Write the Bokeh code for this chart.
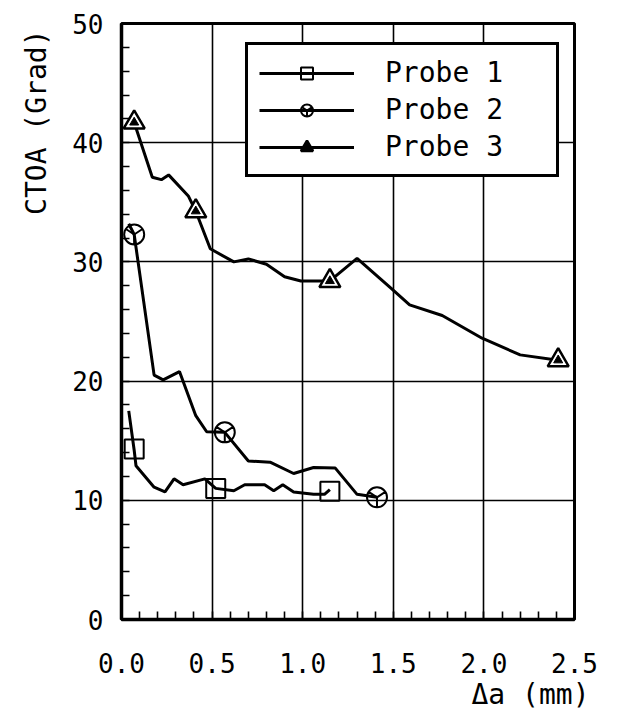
from bokeh.plotting import figure
from bokeh.models import Range1d, SingleIntervalTicker, Legend, LegendItem, Title, NumeralTickFormatter
from bokeh.embed import file_html
from bokeh.resources import INLINE

# ---- data ----
p1_x = [0.04, 0.07, 0.08, 0.18, 0.24, 0.29, 0.34, 0.46, 0.52, 0.62, 0.68, 0.79, 0.84, 0.89, 0.95, 1.06, 1.12, 1.15]
p1_y = [17.5, 14.2, 12.9, 11.1, 10.7, 11.8, 11.3, 11.8, 11.0, 10.8, 11.3, 11.3, 10.8, 11.3, 10.7, 10.5, 10.5, 10.9]
p1_mx = [0.07, 0.52, 1.15]
p1_my = [14.3, 11.0, 10.75]

p2_x = [0.04, 0.07, 0.18, 0.23, 0.32, 0.41, 0.47, 0.57, 0.70, 0.82, 0.95, 1.06, 1.18, 1.30, 1.41]
p2_y = [33.2, 32.3, 20.5, 20.1, 20.8, 17.1, 15.75, 15.7, 13.3, 13.2, 12.25, 12.75, 12.7, 10.5, 10.25]
p2_mx = [0.07, 0.57, 1.41]
p2_my = [32.3, 15.7, 10.25]

p3_x = [0.06, 0.07, 0.17, 0.22, 0.26, 0.37, 0.41, 0.49, 0.62, 0.70, 0.80, 0.90, 0.99, 1.15, 1.30, 1.49, 1.59, 1.77, 1.99, 2.20, 2.41]
p3_y = [42.2, 41.7, 37.1, 36.9, 37.3, 35.5, 34.25, 31.1, 30.0, 30.25, 29.8, 28.75, 28.4, 28.4, 30.3, 27.75, 26.4, 25.5, 23.6, 22.2, 21.75]
p3_mx = [0.07, 0.41, 1.15, 2.41]
p3_my = [41.7, 34.25, 28.4, 21.75]

series_names = ["Probe 1", "Probe 2", "Probe 3"]
x_label = "\u0394a (mm)"
y_label = "CTOA (Grad)"

FONT = "DejaVu Sans Mono"

p = figure(width=625, height=710, output_backend="svg", toolbar_location=None,
           x_range=Range1d(0, 2.5), y_range=Range1d(0, 50),
           min_border_left=120, min_border_top=23, min_border_right=51, min_border_bottom=87)
p.background_fill_color = "white"
p.border_fill_color = "white"
p.outline_line_color = "black"
p.outline_line_width = 3
p.outline_line_alpha = 1

p.xaxis.ticker = SingleIntervalTicker(interval=0.5, num_minor_ticks=5)
p.yaxis.ticker = SingleIntervalTicker(interval=10, num_minor_ticks=5)
p.xaxis.formatter = NumeralTickFormatter(format="0.0")
p.xgrid.ticker = p.xaxis.ticker
p.ygrid.ticker = p.yaxis.ticker
for g in (p.xgrid, p.ygrid):
    g.grid_line_color = "black"
    g.grid_line_width = 1.6
    g.grid_line_alpha = 1

for ax in (p.xaxis, p.yaxis):
    ax.axis_line_color = "black"
    ax.axis_line_width = 3.5
    ax.major_tick_in = 0
    ax.major_tick_out = 0
    ax.minor_tick_in = 8
    ax.minor_tick_out = 0
    ax.minor_tick_line_color = "black"
    ax.minor_tick_line_width = 1.6
    ax.major_label_text_font = FONT
    ax.major_label_text_font_size = "26px"
    ax.major_label_text_color = "black"
p.xaxis.major_label_standoff = 33
p.yaxis.major_label_standoff = 18

lw = 3
l1 = p.line(p1_x, p1_y, line_color="black", line_width=lw)
m1 = p.scatter(p1_mx, p1_my, marker="square", size=19, fill_alpha=0, line_color="black", line_width=2)
l2 = p.line(p2_x, p2_y, line_color="black", line_width=lw)
m2 = p.scatter(p2_mx, p2_my, marker="circle_y", size=20, fill_alpha=0, line_color="black", line_width=2)
l3 = p.line(p3_x, p3_y, line_color="black", line_width=lw)
m3 = p.scatter(p3_mx, p3_my, marker="triangle", size=21, fill_color="white", line_color="black", line_width=2.5)
m3b = p.scatter(p3_mx, p3_my, marker="triangle", size=9, fill_color="black", line_color="black", line_width=1)

legend = Legend(items=[
    LegendItem(label=series_names[0], renderers=[l1, m1]),
    LegendItem(label=series_names[1], renderers=[l2, m2]),
    LegendItem(label=series_names[2], renderers=[l3, m3, m3b]),
], location=(124, 442))
legend.border_line_color = "black"
legend.border_line_width = 3
legend.border_line_alpha = 1
legend.background_fill_color = "white"
legend.background_fill_alpha = 1
legend.label_text_font = FONT
legend.label_text_font_size = "28px"
legend.label_text_color = "black"
legend.padding = 11
legend.spacing = 4
legend.margin = 0
legend.glyph_width = 95
legend.glyph_height = 30
legend.label_height = 30
legend.label_standoff = 31
legend.label_width = 160
p.add_layout(legend)

p.add_layout(Title(text=x_label, align="right", offset=-15, standoff=0, text_font=FONT,
                   text_font_size="28px", text_font_style="normal", text_color="black"), "below")
p.add_layout(Title(text=y_label, align="right", offset=6, standoff=34, text_font=FONT,
                   text_font_size="28px", text_font_style="normal", text_color="black"), "left")

open("out.html", "w").write(file_html(p, INLINE))
